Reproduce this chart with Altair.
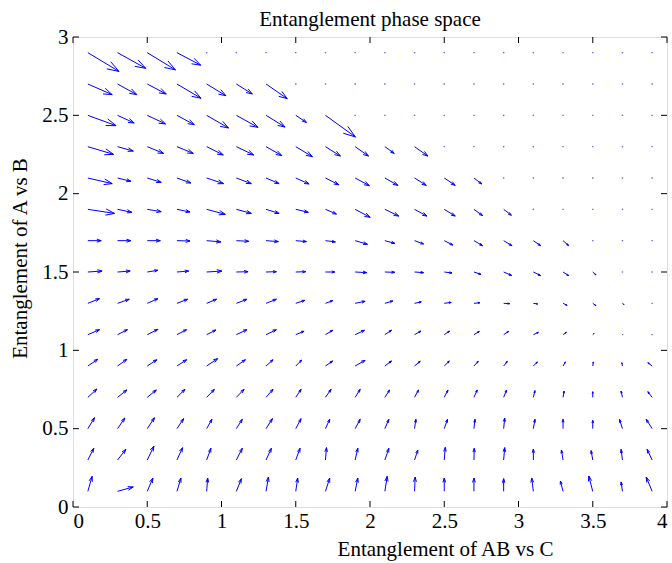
import altair as alt
import pandas as pd

# grid positions
x_grid = [0.1, 0.3, 0.5, 0.7, 0.9, 1.1, 1.3, 1.5, 1.7, 1.9,
          2.1, 2.3, 2.5, 2.7, 2.9, 3.1, 3.3, 3.5, 3.7, 3.9]
y_grid = [0.1, 0.3, 0.5, 0.7, 0.9, 1.1, 1.3, 1.5, 1.7, 1.9,
          2.1, 2.3, 2.5, 2.7, 2.9]

# vector components (as drawn), one list per row, bottom row first
U = [
    [.029, .106, .038, .027, .007, .034, .016, .013, .029, .018, .016, .004, 0, 0, 0, -.011, -.018, -.027, -.009, -.04],
    [.04, .056, .045, .038, .029, .04, .036, .029, .007, .018, .027, .022, .007, .002, .007, 0, -.011, -.011, -.009, -.034],
    [.045, .049, .049, .045, .036, .04, .043, .036, .029, .034, .027, .009, .022, .007, .007, .011, 0, 0, -.02, -.04],
    [.061, .063, .061, .054, .052, .052, .047, .036, .038, .034, .032, .027, .025, .022, .02, .011, .007, 0, -.009, -.029],
    [.067, .063, .065, .065, .074, .061, .047, .04, .049, .067, .045, .038, .034, .029, .025, .027, .016, .004, -.004, -.029],
    [.079, .067, .072, .065, .063, .072, .07, .056, .049, .063, .045, .043, .036, .036, .034, .034, .022, .009, .004, 0],
    [.079, .079, .072, .072, .067, .072, .07, .061, .049, .067, .054, .045, .047, .04, .04, .029, .027, .022, .011, 0],
    [.096, .085, .072, .079, .103, .079, .07, .067, .063, .079, .067, .061, .052, .047, .054, .049, .038, .022, 0, 0],
    [.09, .09, .088, .088, .096, .083, .083, .072, .067, .083, .067, .061, .058, .058, .056, .049, .038, 0, 0, 0],
    [.18, .096, .094, .088, .126, .101, .088, .085, .074, .101, .094, .083, .074, .058, .052, 0, 0, 0, 0, 0],
    [.164, .09, .094, .094, .114, .101, .088, .09, .09, .096, .088, .079, .074, .052, 0, 0, 0, 0, 0, 0],
    [.173, .106, .11, .11, .112, .117, .106, .112, .101, .09, .063, .09, 0, 0, 0, 0, 0, 0, 0, 0],
    [.19, .112, .123, .117, .148, .146, .128, .072, .202, 0, 0, 0, 0, 0, 0, 0, 0, 0, 0, 0],
    [.164, .13, .128, .162, .13, .108, .143, 0, 0, 0, 0, 0, 0, 0, 0, 0, 0, 0, 0, 0],
    [.21, .19, .19, .16, 0, 0, 0, 0, 0, 0, 0, 0, 0, 0, 0, 0, 0, 0, 0, 0],
]
V = [
    [.096, .028, .085, .085, .085, .081, .091, .085, .085, .085, .096, .091, .085, .085, .081, .085, .066, .098, .06, .091],
    [.075, .068, .089, .079, .075, .075, .075, .075, .079, .075, .075, .064, .081, .075, .079, .07, .064, .06, .068, .068],
    [.07, .068, .07, .064, .06, .06, .064, .064, .06, .06, .06, .06, .06, .06, .068, .06, .06, .053, .06, .06],
    [.053, .047, .047, .051, .051, .051, .051, .051, .051, .051, .047, .047, .047, .047, .047, .043, .04, .036, .04, .036],
    [.043, .043, .04, .04, .047, .04, .04, .038, .032, .036, .032, .03, .032, .03, .03, .026, .026, .026, .021, .021],
    [.032, .032, .034, .032, .03, .032, .032, .022, .028, .028, .028, .023, .023, .021, .021, .015, .015, .008, .002, 0],
    [.03, .026, .03, .026, .026, .026, .026, .019, .017, .013, .015, .009, .006, .004, -.002, -.004, -.013, -.015, -.008, 0],
    [.006, .006, .011, .006, .006, .002, .002, .002, 0, -.004, -.002, -.004, -.006, -.015, -.022, -.023, -.023, -.019, 0, 0],
    [0, 0, 0, -.002, -.008, -.004, -.006, -.006, -.008, -.023, -.017, -.021, -.028, -.032, -.032, -.032, -.032, 0, 0, 0],
    [-.026, -.019, -.015, -.017, -.032, -.026, -.026, -.019, -.03, -.051, -.043, -.043, -.043, -.04, -.038, 0, 0, 0, 0, 0],
    [-.036, -.021, -.028, -.032, -.036, -.036, -.036, -.038, -.043, -.049, -.047, -.047, -.047, -.038, 0, 0, 0, 0, 0, 0],
    [-.049, -.028, -.043, -.043, -.053, -.053, -.057, -.064, -.06, -.06, -.043, -.06, 0, 0, 0, 0, 0, 0, 0, 0],
    [-.066, -.049, -.055, -.06, -.081, -.077, -.075, -.045, -.138, 0, 0, 0, 0, 0, 0, 0, 0, 0, 0, 0],
    [-.068, -.068, -.064, -.091, -.075, -.064, -.094, 0, 0, 0, 0, 0, 0, 0, 0, 0, 0, 0, 0, 0],
    [-.12, -.10, -.11, -.08, 0, 0, 0, 0, 0, 0, 0, 0, 0, 0, 0, 0, 0, 0, 0, 0],
]

x_ticks = [0, 0.5, 1, 1.5, 2, 2.5, 3, 3.5, 4]
y_ticks = [0, 0.5, 1, 1.5, 2, 2.5, 3]

title_text = "Entanglement phase space"
x_title = "Entanglement of AB vs C"
y_title = "Entanglement of A vs B"

rows = []
for j, yv in enumerate(y_grid):
    for i, xv in enumerate(x_grid):
        rows.append({"x": xv, "y": yv, "u": U[j][i], "v": V[j][i]})
df = pd.DataFrame(rows)

W, H = 594, 470
FONT = "Liberation Serif"
FS = 21
BLUE = "#0000ff"

xs = alt.Scale(domain=[0, 4], nice=False, zero=False)
ys = alt.Scale(domain=[0, 3], nice=False, zero=False)

x_axis = alt.Axis(values=x_ticks, format="~g", ticks=False, domain=False, grid=False,
                  labelFont=FONT, labelFontSize=FS, labelColor="black", labelPadding=3,
                  title=x_title, titleFont=FONT, titleFontSize=FS, titleFontWeight="normal",
                  titleColor="black", titleX=372, titleY=42, titleAlign="center",
                  titleBaseline="middle")
y_axis = alt.Axis(values=y_ticks, format="~g", ticks=False, domain=False, grid=False,
                  labelFont=FONT, labelFontSize=FS, labelColor="black", labelPadding=5,
                  title=y_title, titleFont=FONT, titleFontSize=FS, titleFontWeight="normal",
                  titleColor="black", titleX=-53, titleY=221, titleAlign="center",
                  titleBaseline="middle", titleAngle=-90)

base = alt.Chart(df)
nonzero = "datum.u != 0 || datum.v != 0"
tip = dict(xe="datum.x + datum.u", ye="datum.y + datum.v")

shaft = base.transform_filter(nonzero).transform_calculate(**tip).mark_rule(
    color=BLUE, strokeWidth=1
).encode(
    x=alt.X("x:Q", scale=xs, axis=x_axis),
    y=alt.Y("y:Q", scale=ys, axis=y_axis),
    x2="xe:Q", y2="ye:Q",
)

head1 = base.transform_filter(nonzero).transform_calculate(
    hx="datum.x + datum.u - 0.33*(datum.u + 0.33*datum.v)",
    hy="datum.y + datum.v - 0.33*(datum.v - 0.33*datum.u)",
    **tip,
).mark_rule(color=BLUE, strokeWidth=1).encode(
    x=alt.X("hx:Q", scale=xs), y=alt.Y("hy:Q", scale=ys), x2="xe:Q", y2="ye:Q"
)

head2 = base.transform_filter(nonzero).transform_calculate(
    hx="datum.x + datum.u - 0.33*(datum.u - 0.33*datum.v)",
    hy="datum.y + datum.v - 0.33*(datum.v + 0.33*datum.u)",
    **tip,
).mark_rule(color=BLUE, strokeWidth=1).encode(
    x=alt.X("hx:Q", scale=xs), y=alt.Y("hy:Q", scale=ys), x2="xe:Q", y2="ye:Q"
)

dots = base.transform_filter("datum.u == 0 && datum.v == 0").mark_square(
    color=BLUE, size=2, opacity=0.6
).encode(x=alt.X("x:Q", scale=xs), y=alt.Y("y:Q", scale=ys))

xt = alt.Chart(pd.DataFrame({"t": x_ticks}))
yt = alt.Chart(pd.DataFrame({"t": y_ticks}))
tick_bottom = xt.mark_rule(color="black").encode(
    x=alt.X("t:Q", scale=xs), y=alt.value(H), y2=alt.value(H - 6))
tick_top = xt.mark_rule(color="black").encode(
    x=alt.X("t:Q", scale=xs), y=alt.value(0), y2=alt.value(6))
tick_left = yt.mark_rule(color="black").encode(
    y=alt.Y("t:Q", scale=ys), x=alt.value(0), x2=alt.value(6))
tick_right = yt.mark_rule(color="black").encode(
    y=alt.Y("t:Q", scale=ys), x=alt.value(W), x2=alt.value(W - 6))

chart = alt.layer(
    shaft, head1, head2, dots, tick_bottom, tick_top, tick_left, tick_right
).properties(
    width=W, height=H,
    title=alt.TitleParams(title_text, font=FONT, fontSize=FS, fontWeight="normal",
                          color="black", anchor="middle", offset=0,
                          baseline="alphabetic", dy=21),
    autosize=alt.AutoSizeParams(type="none"),
    padding={"left": 73, "top": 37, "right": 5, "bottom": 56},
).configure_view(stroke="black", strokeWidth=1).configure(background="white")

chart.save("out.html", embed_options={"renderer": "svg", "actions": False})
